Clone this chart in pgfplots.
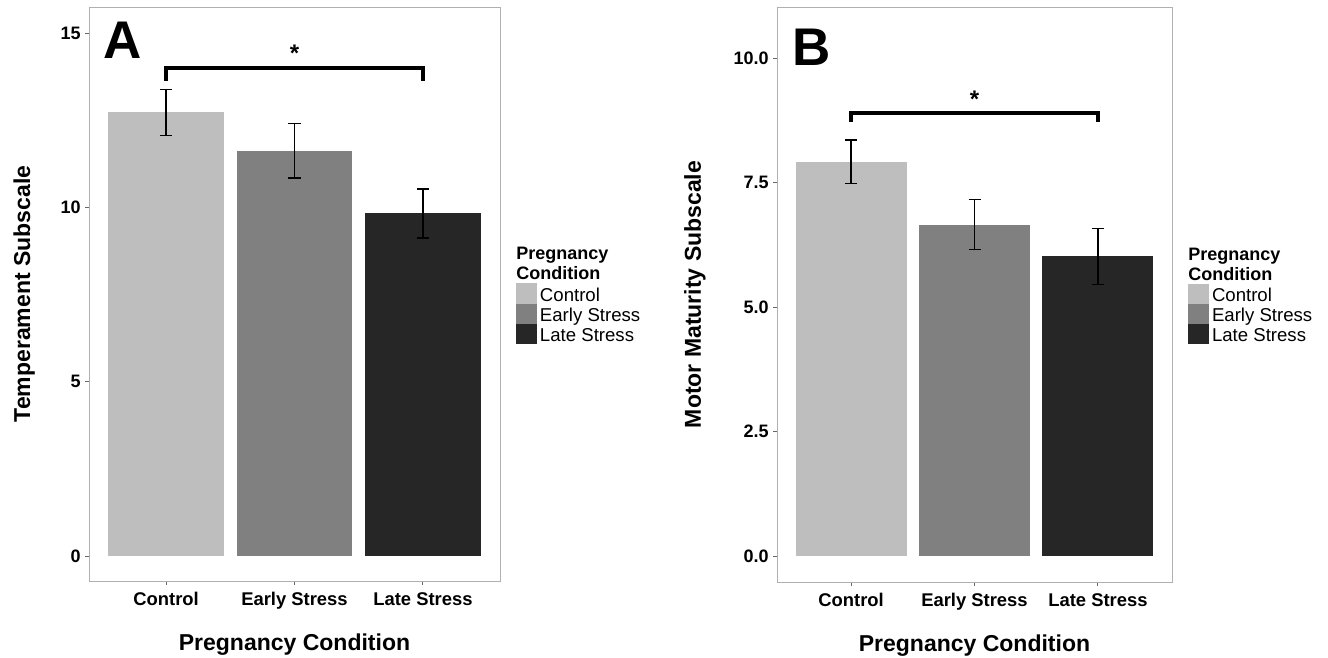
\documentclass[border=0pt]{standalone}
\usepackage{fontspec}
\setmainfont{Liberation Sans}
\usepackage{pgfplots}
\pgfplotsset{compat=1.18}

\definecolor{barctrl}{HTML}{BEBEBE}
\definecolor{barearly}{HTML}{808080}
\definecolor{barlate}{HTML}{262626}
\definecolor{boxline}{HTML}{B0B0B0}

\pgfplotsset{
  panel/.style={
    scale only axis, clip=false,
    xmin=0.4, xmax=3.6,
    xtick={1,2,3}, xticklabels={Control,Early Stress,Late Stress},
    xtick pos=lower, ytick pos=left,
    tick align=outside, major tick length=2pt,
    tick style={black!60, line width=0.5pt},
    axis line style={boxline, line width=0.5pt},
    /pgf/number format/assume math mode=true,
    x tick label style={font=\bfseries\fontsize{9.2}{11}\selectfont, anchor=base, inner sep=0pt, yshift=-10pt},
    y tick label style={font=\bfseries\fontsize{9}{10}\selectfont, anchor=east, inner sep=0pt, xshift=-2pt},
    every axis x label/.style={at={(axis description cs:0.5,0)}, anchor=base, yshift=-34.5pt, font=\bfseries\fontsize{11.5}{13}\selectfont},
    xlabel={Pregnancy Condition},
    legend cell align=left,
    legend image code/.code={\fill[##1] (0pt,-5.05pt) rectangle (10.5pt,5.05pt);},
    legend style={at={(rel axis cs:1,0.5186)}, anchor=north west, xshift=8pt,
      draw=none, fill=none, inner sep=0pt, outer sep=0pt, row sep=0pt, column sep=0pt,
      font=\fontsize{9.3}{11}\selectfont,
      nodes={inner xsep=1.5pt, inner ysep=0pt, text height=8.85pt, text depth=1.25pt}},
  },
  bar/.style={ybar, bar width=0.9, bar shift=0pt, draw=none},
  se/.style={forget plot, draw=none, mark=none,
    error bars/.cd, y dir=both, y explicit,
    error bar style={draw=black, line width=0.7pt},
    error mark options={draw=black, rotate=90, mark size=3pt, line width=0.7pt}},
}

\begin{document}
\begin{tikzpicture}
\useasboundingbox (0,0) rectangle (664pt,-329pt);

% panel A
\begin{axis}[panel, at={(44.5pt,-290.5pt)}, anchor=south west,
  width=205.5pt, height=287pt,
  ymin=-0.717, ymax=15.755, ytick={0,5,10,15},
  ylabel={Temperament Subscale},
  every axis y label/.style={at={(axis description cs:-0.158,0.5)}, rotate=90, anchor=center, font=\bfseries\fontsize{11.5}{13}\selectfont},
]
\addplot[bar, fill=barctrl] coordinates {(1,12.73)};
\addlegendentry{Control}
\addplot[bar, fill=barearly] coordinates {(2,11.63)};
\addlegendentry{Early Stress}
\addplot[bar, fill=barlate] coordinates {(3,9.83)};
\addlegendentry{Late Stress}
\addplot[se] coordinates {(1,12.73) +- (0,0.66) (2,11.63) +- (0,0.78) (3,9.83) +- (0,0.70)};
\addplot[forget plot, black, line width=1.8pt, mark=none] coordinates {(1,13.63) (1,14.0) (3,14.0) (3,13.63)};
\node[font=\bfseries\fontsize{12}{14}\selectfont] at (axis cs:2,14.43) {*};
\node[anchor=north west, inner sep=0pt, xshift=7pt, yshift=-7.5pt, font=\bfseries\fontsize{26.5}{30}\selectfont] at (rel axis cs:0,1) {A};
\node[anchor=north west, inner sep=0pt, align=left, xshift=8pt, font=\bfseries\fontsize{9}{10}\selectfont] at (rel axis cs:1,0.5819) {Pregnancy\\Condition};
\end{axis}

% panel B
\begin{axis}[panel, at={(388.5pt,-291pt)}, anchor=south west,
  width=197.5pt, height=287.5pt,
  ymin=-0.522, ymax=11.03, ytick={0,2.5,5,7.5,10},
  yticklabel style={/pgf/number format/.cd, fixed, fixed zerofill, precision=1},
  ylabel={Motor Maturity Subscale},
  every axis y label/.style={at={(axis description cs:-0.2076,0.5)}, rotate=90, anchor=center, font=\bfseries\fontsize{11.5}{13}\selectfont},
]
\addplot[bar, fill=barctrl] coordinates {(1,7.92)};
\addlegendentry{Control}
\addplot[bar, fill=barearly] coordinates {(2,6.66)};
\addlegendentry{Early Stress}
\addplot[bar, fill=barlate] coordinates {(3,6.02)};
\addlegendentry{Late Stress}
\addplot[se] coordinates {(1,7.92) +- (0,0.435) (2,6.66) +- (0,0.50) (3,6.02) +- (0,0.565)};
\addplot[forget plot, black, line width=1.8pt, mark=none] coordinates {(1,8.72) (1,8.90) (3,8.90) (3,8.72)};
\node[font=\bfseries\fontsize{12}{14}\selectfont] at (axis cs:2,9.18) {*};
\node[anchor=north west, inner sep=0pt, xshift=7.5pt, yshift=-11pt, font=\bfseries\fontsize{26.5}{30}\selectfont] at (rel axis cs:0,1) {B};
\node[anchor=north west, inner sep=0pt, align=left, xshift=8pt, font=\bfseries\fontsize{9}{10}\selectfont] at (rel axis cs:1,0.5819) {Pregnancy\\Condition};
\end{axis}
\end{tikzpicture}
\end{document}
